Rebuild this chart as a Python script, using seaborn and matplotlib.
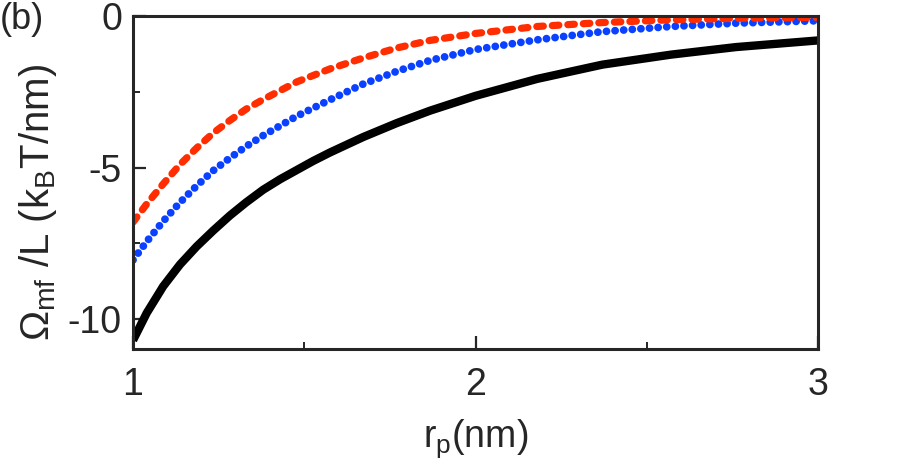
import numpy as np
import pandas as pd
import matplotlib
matplotlib.use("Agg")
import matplotlib.pyplot as plt
import seaborn as sns

# valores (r_p en nm, Omega_mf/L en kBT/nm)
x_black = [1.0, 1.04, 1.088, 1.137, 1.186, 1.234, 1.283, 1.33, 1.38, 1.43, 1.478, 1.526,
           1.575, 1.672, 1.77, 1.867, 2.0, 2.18, 2.37, 2.57, 2.76, 3.0]
y_black = [-10.7, -9.8, -8.92, -8.2, -7.6, -7.08, -6.58, -6.15, -5.73, -5.38, -5.08, -4.78,
           -4.5, -3.99, -3.53, -3.12, -2.63, -2.07, -1.6, -1.27, -1.02, -0.8]

x_blue = [1.0, 1.04, 1.088, 1.137, 1.186, 1.234, 1.283, 1.33, 1.38, 1.478, 1.575, 1.672,
          1.77, 1.867, 2.0, 2.18, 2.37, 2.57, 2.76, 3.0]
y_blue = [-8.05, -7.44, -6.77, -6.15, -5.6, -5.1, -4.68, -4.3, -3.94, -3.3, -2.76, -2.24,
          -1.82, -1.46, -1.1, -0.78, -0.51, -0.34, -0.23, -0.15]

x_red = [1.0, 1.04, 1.088, 1.137, 1.186, 1.234, 1.283, 1.33, 1.38, 1.478, 1.575, 1.672,
         1.77, 1.867, 2.0, 2.18, 2.37, 2.57, 2.76, 3.0]
y_red = [-6.8, -6.2, -5.54, -4.9, -4.35, -3.86, -3.44, -3.07, -2.75, -2.17, -1.74, -1.38,
         -1.05, -0.8, -0.57, -0.34, -0.21, -0.12, -0.07, -0.04]

x_ticks = [1, 2, 3]
y_ticks = [0, -5, -10]

sns.set_style("ticks")
plt.rcParams['font.family'] = ['Liberation Sans', 'DejaVu Sans']
plt.rcParams['mathtext.fontset'] = 'custom'
plt.rcParams['mathtext.rm'] = 'Liberation Sans'
plt.rcParams['mathtext.default'] = 'regular'
plt.rcParams['axes.unicode_minus'] = False

fig = plt.figure(figsize=(9.13, 4.68), dpi=100)
ax = fig.add_axes([0.1457, 0.2535, 0.7503, 0.7119])

# linea negra continua
sns.lineplot(x=x_black, y=y_black, ax=ax, color='black', lw=6.0,
             solid_capstyle='butt', sort=False)
# azul punteada (puntos redondos)
sns.lineplot(x=x_blue, y=y_blue, ax=ax, color='#0a40ff', lw=5.6,
             linestyle=(0, (0.01, 1.1)), dash_capstyle='round', sort=False)
# roja a trazos
sns.lineplot(x=x_red, y=y_red, ax=ax, color='#ff2d00', lw=5.2,
             linestyle=(0, (0.9, 1.25)), dash_capstyle='round', sort=False)

ax.set_xlim(1, 3)
ax.set_ylim(-11, 0)
ax.set_xticks(x_ticks)
ax.set_yticks(y_ticks)
ax.set_xticks([1.5, 2.5], minor=True)
ax.set_yticks([-2.5, -7.5], minor=True)
ax.tick_params(which='major', direction='in', length=9.5, width=1.6, labelsize=27)
ax.tick_params(axis='x', which='major', pad=13)
ax.tick_params(axis='y', which='major', pad=8)
ax.tick_params(which='minor', direction='in', length=5, width=1.4)
for s in ax.spines.values():
    s.set_linewidth(2.2)
    s.set_visible(True)

ax.set_xlabel('r$_p$(nm)', fontsize=27, labelpad=10)
ax.set_ylabel(r'$\Omega_{mf}$ /L (k$_B$T/nm)', fontsize=29)
ax.yaxis.set_label_coords(-0.108, 0.44)
fig.text(0.0, 0.995, '(b)', fontsize=26, ha='left', va='top')

fig.savefig('out.png', dpi=100)
